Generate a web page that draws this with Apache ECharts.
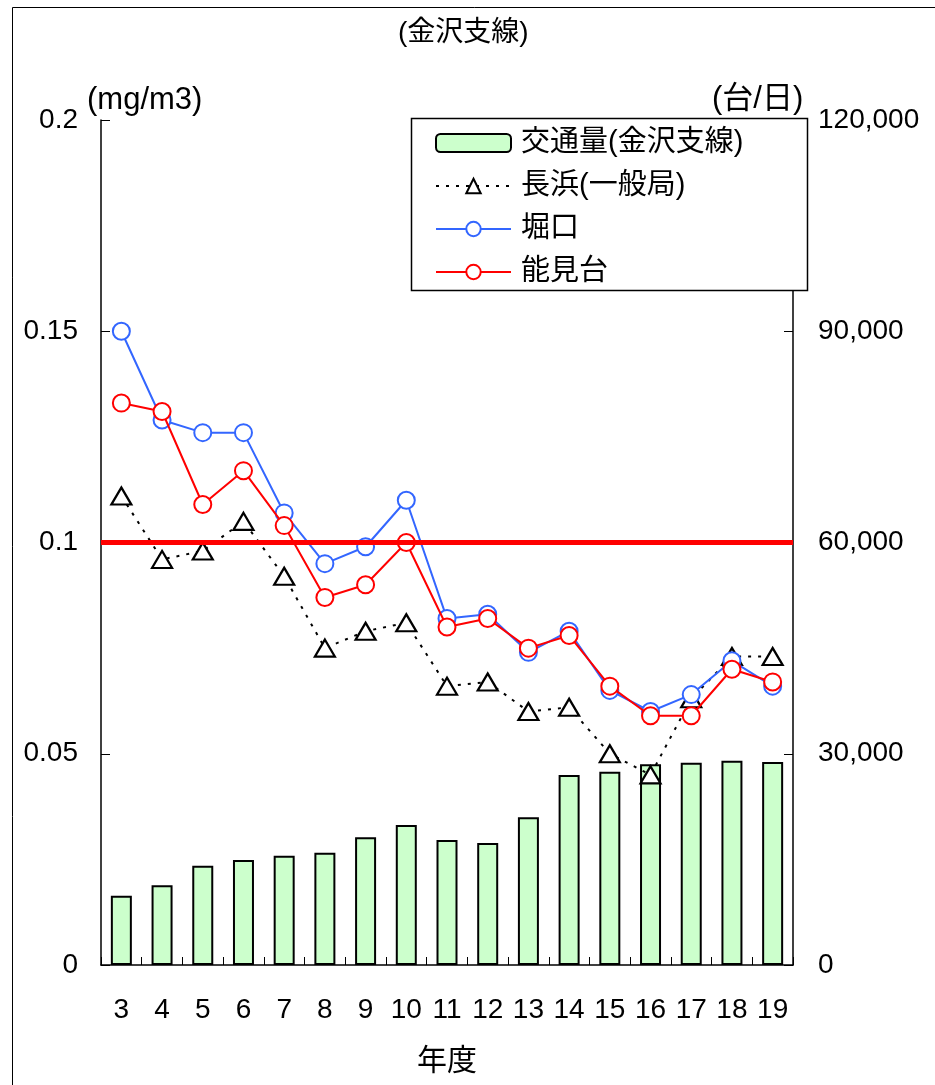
<!DOCTYPE html>
<html>
<head>
<meta charset="utf-8">
<script src="https://cdn.jsdelivr.net/npm/echarts@6/dist/echarts.min.js"></script>
<style>
  html, body { margin: 0; padding: 0; background: #fff; }
  #chart { width: 935px; height: 1085px; }
</style>
</head>
<body>
<div id="chart"></div>
<script>
// Fiscal years (平成) on the category axis
const years = ['3', '4', '5', '6', '7', '8', '9', '10', '11', '12', '13', '14', '15', '16', '17', '18', '19'];

// Daily traffic volume on the 金沢支線 (台/日), right axis
const traffic = [9840, 11320, 14100, 14910, 15520, 15950, 18130, 19880, 17750, 17330, 20970, 26980, 27450, 28500, 28730, 29010, 28830];

// Concentrations (mg/m3), left axis
const nagahama = [0.111, 0.096, 0.098, 0.105, 0.092, 0.075, 0.079, 0.081, 0.066, 0.067, 0.060, 0.061, 0.050, 0.045, 0.063, 0.073, 0.073];
const horiguchi = [0.150, 0.129, 0.126, 0.126, 0.107, 0.095, 0.099, 0.110, 0.082, 0.083, 0.074, 0.079, 0.065, 0.060, 0.064, 0.072, 0.066];
const noumidai = [0.133, 0.131, 0.109, 0.117, 0.104, 0.087, 0.090, 0.100, 0.080, 0.082, 0.075, 0.078, 0.066, 0.059, 0.059, 0.070, 0.067];

// Reference level drawn as a horizontal line
const standardLevel = 0.1;

// Axis tick settings
const leftAxisTicks = { min: 0, max: 0.2, interval: 0.05 };
const rightAxisTicks = { min: 0, max: 120000, interval: 30000 };

const FONT = "'Liberation Sans', 'Noto Sans CJK JP', sans-serif";
const BLUE = '#3366FF';
const RED = '#FF0000';

const chart = echarts.init(document.getElementById('chart'), null, { renderer: 'canvas' });

const fmtComma = v => String(v).replace(/\B(?=(\d{3})+(?!\d))/g, ',');

chart.setOption({
  animation: false,
  backgroundColor: '#fff',
  textStyle: { fontFamily: FONT, color: '#000' },
  title: {
    text: '(金沢支線)',
    left: 393,
    top: 14,
    textStyle: { fontFamily: FONT, fontSize: 28, fontWeight: 'normal', color: '#000' }
  },
  grid: { left: 101, width: 692, top: 120, height: 845, containLabel: false },
  legend: {
    orient: 'vertical',
    left: 411,
    top: 118,
    padding: [9, 0, 0, 24],
    itemWidth: 75,
    itemHeight: 18,
    itemGap: 11,
    selectedMode: false,
    textStyle: { fontFamily: FONT, fontSize: 29, color: '#000', lineHeight: 32, padding: [0, 0, 0, 5] },
    data: ['交通量(金沢支線)', '長浜(一般局)', '堀口', '能見台']
  },
  xAxis: {
    type: 'category',
    data: years,
    boundaryGap: true,
    name: '年度',
    nameLocation: 'middle',
    nameGap: 82,
    nameTextStyle: { fontFamily: FONT, fontSize: 30, color: '#000' },
    axisLine: { lineStyle: { color: '#000', width: 1.5 } },
    axisTick: { show: true, inside: true, length: 8, lineStyle: { color: '#000', width: 1 } },
    axisLabel: { interval: 0, fontSize: 28, color: '#000', margin: 31, fontFamily: FONT }
  },
  yAxis: [
    {
      type: 'value',
      min: leftAxisTicks.min,
      max: leftAxisTicks.max,
      interval: leftAxisTicks.interval,
      position: 'left',
      axisLine: { show: true, lineStyle: { color: '#000', width: 1.5 } },
      axisTick: { show: true, inside: true, length: 9, lineStyle: { color: '#000' } },
      splitLine: { show: false },
      axisLabel: { fontSize: 28, color: '#000', margin: 23, fontFamily: FONT }
    },
    {
      type: 'value',
      min: rightAxisTicks.min,
      max: rightAxisTicks.max,
      interval: rightAxisTicks.interval,
      position: 'right',
      axisLine: { show: true, lineStyle: { color: '#000', width: 1.5 } },
      axisTick: { show: true, inside: true, length: 9, lineStyle: { color: '#000' } },
      splitLine: { show: false },
      axisLabel: { fontSize: 28, color: '#000', margin: 25, fontFamily: FONT, formatter: fmtComma }
    }
  ],
  series: [
    {
      name: '交通量(金沢支線)',
      type: 'bar',
      yAxisIndex: 1,
      data: traffic,
      barWidth: 21,
      itemStyle: { color: '#CCFFCC', borderColor: '#000', borderWidth: 2 },
      z: 1
    },
    {
      name: '長浜(一般局)',
      type: 'line',
      yAxisIndex: 0,
      data: nagahama,
      symbol: 'triangle',
      symbolSize: [20, 17],
      showAllSymbol: true,
      lineStyle: { color: '#000', width: 2, type: [3, 7] },
      itemStyle: { color: '#fff', borderColor: '#000', borderWidth: 2.2 },
      z: 2,
      markLine: {
        silent: true,
        symbol: ['none', 'none'],
        label: { show: false },
        lineStyle: { color: RED, width: 5, type: 'solid' },
        data: [{ yAxis: standardLevel }]
      }
    },
    {
      name: '堀口',
      type: 'line',
      yAxisIndex: 0,
      data: horiguchi,
      symbol: 'circle',
      symbolSize: 17,
      showAllSymbol: true,
      lineStyle: { color: BLUE, width: 2 },
      itemStyle: { color: '#fff', borderColor: BLUE, borderWidth: 2 },
      z: 3
    },
    {
      name: '能見台',
      type: 'line',
      yAxisIndex: 0,
      data: noumidai,
      symbol: 'circle',
      symbolSize: 17,
      showAllSymbol: true,
      lineStyle: { color: RED, width: 2 },
      itemStyle: { color: '#fff', borderColor: RED, borderWidth: 2 },
      z: 4
    }
  ],
  graphic: [
    // outer frame
    {
      type: 'rect',
      z: 0,
      silent: true,
      shape: { x: 12.5, y: 7.5, width: 1000, height: 1200 },
      style: { fill: 'none', stroke: '#000', lineWidth: 1 }
    },
    // legend frame
    {
      type: 'rect',
      z: 3,
      silent: true,
      shape: { x: 411.5, y: 118.5, width: 396, height: 172 },
      style: { fill: '#fff', stroke: '#000', lineWidth: 1.5 }
    },
    // unit labels
    {
      type: 'text',
      z: 5,
      left: 87,
      top: 85,
      style: { text: '(mg/m3)', font: "31px " + FONT, fill: '#000' }
    },
    {
      type: 'text',
      z: 5,
      left: 712,
      top: 84,
      style: { text: '(台/日)', font: "31px " + FONT, fill: '#000' }
    }
  ]
});
</script>
</body>
</html>
